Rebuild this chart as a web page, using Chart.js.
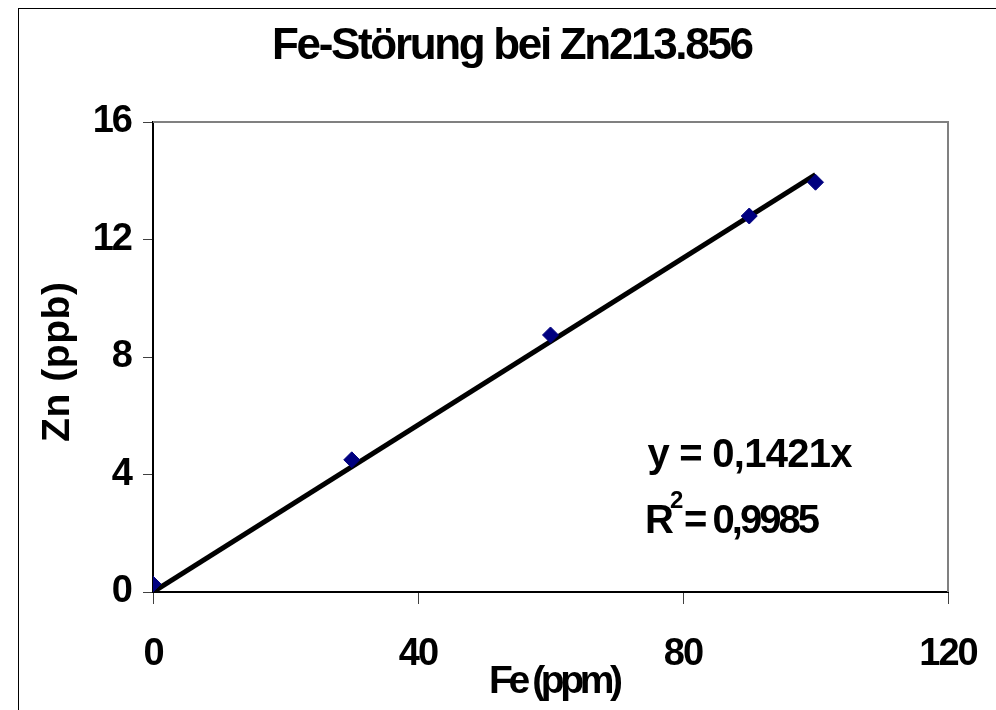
<!DOCTYPE html>
<html>
<head>
<meta charset="utf-8">
<script src="https://cdn.jsdelivr.net/npm/chart.js@4/dist/chart.umd.min.js"></script>
<style>
  html, body { margin: 0; padding: 0; background: #fff; }
  #wrap { position: relative; width: 996px; height: 710px; }
  #frame { position: absolute; left: 18px; top: 8px; width: 990px; height: 720px; border: 1px solid #000; box-sizing: border-box; }
  canvas { position: absolute; left: 0; top: 0; }
</style>
</head>
<body>
<div id="wrap">
  <div id="frame"></div>
  <canvas id="chart" width="996" height="710"></canvas>
</div>
<script>
// Données
const feValues = [0, 30, 60, 90, 100];
const znValues = [0.27, 4.5, 8.75, 12.8, 13.95];
// Droite de tendance (y = 0,1421x)
const trendX = [0, 100];
const trendY = [0, 14.21];
const xTicks = [0, 40, 80, 120];
const yTicks = [0, 4, 8, 12, 16];

const FONT = '"Liberation Sans", Arial, sans-serif';

// Texte serré : on réduit l'espacement des lettres pour tenir dans la largeur voulue
function drawText(ctx, text, x, y, size, width, rotate, align) {
  ctx.save();
  ctx.font = 'bold ' + size + 'px ' + FONT;
  ctx.fillStyle = '#000';
  ctx.textAlign = align || 'center';
  ctx.textBaseline = 'middle';
  ctx.letterSpacing = '0px';
  const w = ctx.measureText(text).width;
  const ls = (width - w) / Math.max(1, text.length - 1);
  ctx.letterSpacing = ls.toFixed(2) + 'px';
  ctx.translate(x, y);
  if (rotate) ctx.rotate(-Math.PI / 2);
  // décalage pour compenser l'espacement final ajouté en centrage
  const dx = (align === 'left') ? 0 : ls / 2;
  ctx.fillText(text, dx, 0);
  ctx.restore();
}

const textPlugin = {
  id: 'textes',
  beforeDraw(chart) {
    chart.ctx.letterSpacing = '-2px';
  },
  afterDraw(chart) {
    const ctx = chart.ctx;
    const a = chart.chartArea;
    // bordure grise haut / droite de la zone de tracé
    ctx.save();
    ctx.strokeStyle = '#808080';
    ctx.lineWidth = 2;
    ctx.beginPath();
    ctx.moveTo(a.left, a.top);
    ctx.lineTo(a.right, a.top);
    ctx.lineTo(a.right, a.bottom);
    ctx.stroke();
    ctx.restore();

    drawText(ctx, 'Fe-Störung bei Zn213.856', 513, 47, 44, 482);
    drawText(ctx, 'Fe (ppm)', 556, 682, 39, 134);
    drawText(ctx, 'Zn (ppb)', 58, 362, 39, 160, true);
    drawText(ctx, 'y = 0,1421x', 750, 456, 40, 205);
    // R² avec exposant
    drawText(ctx, 'R', 645, 522, 40, 26, false, 'left');
    drawText(ctx, '2', 670, 501, 24, 12, false, 'left');
    drawText(ctx, '= 0,9985', 684, 522, 40, 136, false, 'left');
  }
};

const ctx = document.getElementById('chart').getContext('2d');
new Chart(ctx, {
  type: 'scatter',
  data: {
    datasets: [
      {
        label: 'Zn',
        data: feValues.map((x, i) => ({ x: x, y: znValues[i] })),
        pointStyle: 'rectRot',
        pointRadius: 8,
        backgroundColor: '#000080',
        borderColor: '#000080',
        borderWidth: 1,
        order: 1
      },
      {
        label: 'Tendance',
        type: 'line',
        data: trendX.map((x, i) => ({ x: x, y: trendY[i] })),
        borderColor: '#000',
        borderWidth: 5,
        pointRadius: 0,
        fill: false,
        order: 2
      }
    ]
  },
  plugins: [textPlugin],
  options: {
    responsive: false,
    animation: false,
    layout: { padding: { top: 122, right: 48, left: 0, bottom: 0 } },
    plugins: {
      legend: { display: false },
      tooltip: { enabled: false }
    },
    scales: {
      x: {
        type: 'linear',
        min: 0,
        max: 120,
        afterBuildTicks: s => { s.ticks = xTicks.map(v => ({ value: v })); },
        afterFit: s => { s.height = 710 - 592; s.paddingLeft = 0; s.paddingRight = 0; },
        grid: { drawOnChartArea: false, tickLength: 12, color: '#404040', lineWidth: 1 },
        border: { color: '#000', width: 2 },
        ticks: { color: '#000', padding: 28, font: { family: FONT, weight: 'bold', size: 38 } }
      },
      y: {
        min: 0,
        max: 16,
        afterBuildTicks: s => { s.ticks = yTicks.map(v => ({ value: v })); },
        afterFit: s => { s.width = 153; s.paddingTop = 0; s.paddingBottom = 0; },
        grid: { drawOnChartArea: false, tickLength: 10, color: '#404040', lineWidth: 1 },
        border: { color: '#000', width: 2 },
        ticks: { color: '#000', padding: 12, font: { family: FONT, weight: 'bold', size: 38 } }
      }
    }
  }
});
</script>
</body>
</html>
